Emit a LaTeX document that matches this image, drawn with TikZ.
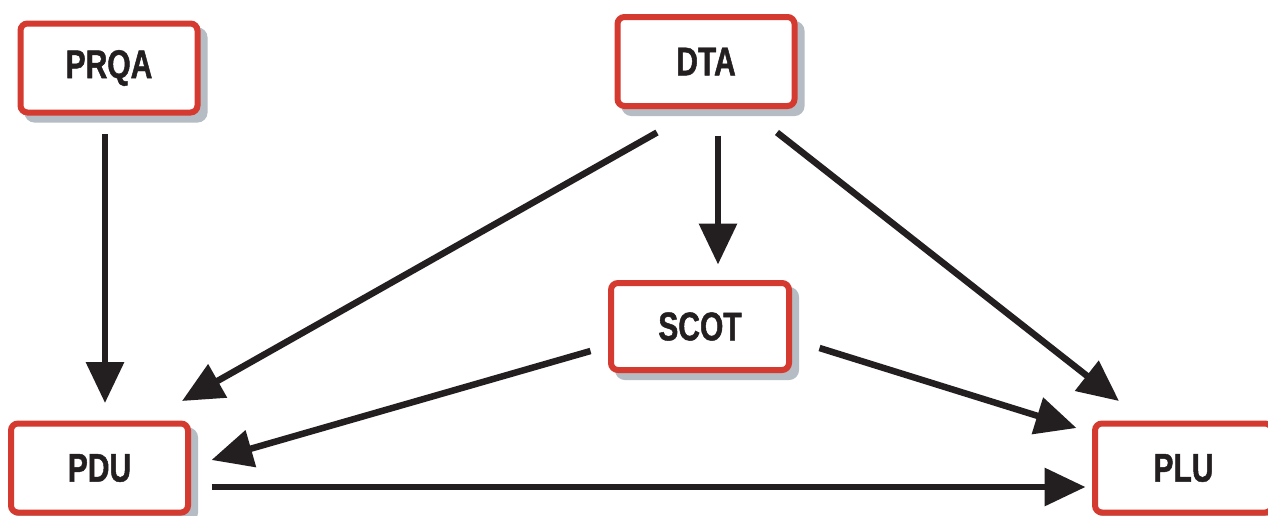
\documentclass[tikz,border=0pt]{standalone}
\usepackage{fontspec}
\setmainfont{Liberation Sans}[FakeStretch=0.75,BoldFeatures={FakeBold=1.2}]
\usetikzlibrary{arrows.meta,calc,shadows}
\definecolor{boxred}{HTML}{D43A2F}
\definecolor{shadowgray}{HTML}{B5BCC3}
\definecolor{arrowblack}{HTML}{231F20}
\tikzset{
  box/.style={draw=boxred, line width=6pt, fill=white, rounded corners=7pt,
    minimum width=177pt, minimum height=89pt, inner sep=0pt,
    font=\fontsize{40}{40}\selectfont\bfseries, text=arrowblack,
    drop shadow={shadow xshift=7pt, shadow yshift=-7pt, fill=shadowgray, draw=shadowgray, line width=6pt, opacity=1}},
  conn/.style={draw=arrowblack, line width=6.5pt, -{Triangle[length=41pt,width=37pt]}}
}
\begin{document}
\begin{tikzpicture}[x=1pt,y=-1pt]
\useasboundingbox (0,0) rectangle (1268,515);
\clip (0,0) rectangle (1268,515);
\fill[white] (0,0) rectangle (1268,515);
\node[box] (PRQA) at (109,68) {PRQA};
\node[box] (DTA) at (706,61.5) {DTA};
\node[box, minimum width=178pt, minimum height=87pt] (SCOT) at (700,326.5) {SCOT};
\node[box] (PDU) at (99.5,468) {PDU};
\node[box] (PLU) at (1183.5,468) {PLU};
\draw[conn] ($(PRQA.south)+(-4,18.5)$) -- ($(PDU.north)+(5.5,-17.5)$);
\draw[conn] ($(DTA.south)+(-49,23.5)$) -- ($(PDU.north)+(82.5,-19.5)$);
\draw[conn] ($(DTA.south)+(12,26.5)$) -- ($(SCOT.north)+(18,-15.5)$);
\draw[conn] ($(DTA.south)+(71,23.5)$) -- ($(PLU.north)+(-64.5,-19.5)$);
\draw[conn] ($(SCOT.west)+(-17.5,24.5)$) -- ($(PDU.east)+(20.5,-8)$);
\draw[conn] ($(SCOT.east)+(27.5,21.5)$) -- ($(PLU.west)+(-15.5,-40)$);
\draw[conn] ($(PDU.east)+(20.5,19)$) -- ($(PLU.west)+(-6.5,19)$);
\end{tikzpicture}
\end{document}
